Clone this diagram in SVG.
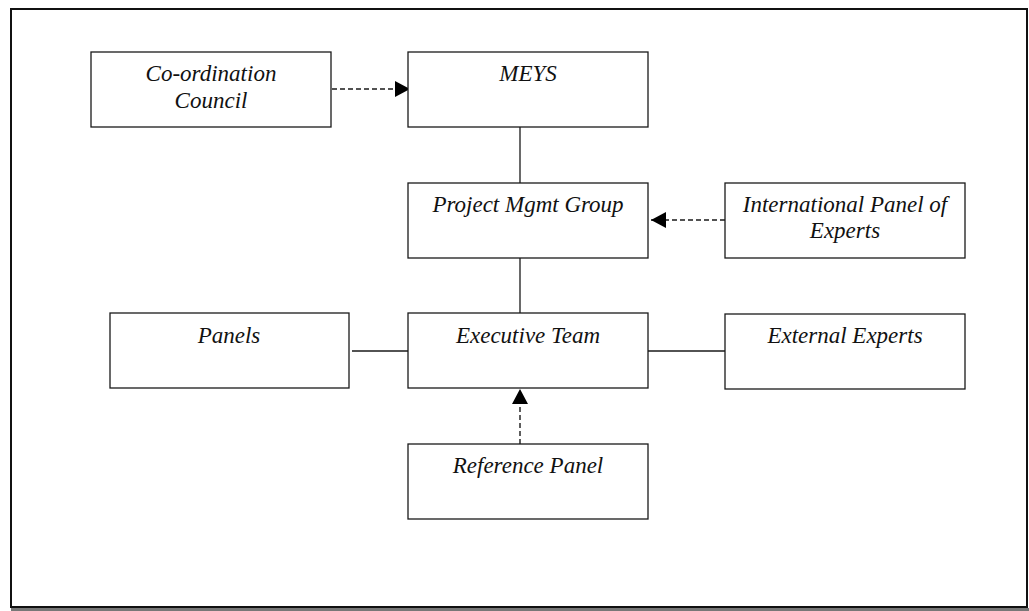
<svg xmlns="http://www.w3.org/2000/svg" width="1029" height="611" viewBox="0 0 1029 611">
  <style>
    .box { fill: #fff; stroke: #1a1a1a; stroke-width: 1.3; }
    .lbl { font-family: "Liberation Serif", "Times New Roman", serif; font-style: italic; font-size: 23px; fill: #111; text-anchor: middle; }
    .solid { stroke: #1a1a1a; stroke-width: 1.3; fill: none; }
    .dash { stroke: #1a1a1a; stroke-width: 1.4; fill: none; stroke-dasharray: 5 3; }
  </style>
  <defs>
    <marker id="arrow" markerWidth="15" markerHeight="16" refX="15" refY="8" orient="auto" markerUnits="userSpaceOnUse">
      <path d="M0,0 L15,8 L0,16 Z" fill="#000"/>
    </marker>
  </defs>

  <rect width="1029" height="611" fill="#fff"/>

  <!-- outer frame with a soft lower edge -->
  <g id="frame">
    <line x1="11" y1="609.5" x2="1029" y2="609.5" stroke="#777" stroke-width="3"/>
    <rect x="11" y="9" width="1016" height="598" fill="none" stroke="#111" stroke-width="2"/>
  </g>

  <g id="connectors">
    <line class="dash" x1="332" y1="89" x2="410" y2="89" marker-end="url(#arrow)"/>
    <line class="solid" x1="520" y1="127" x2="520" y2="183"/>
    <line class="dash" x1="725" y1="220" x2="651" y2="220" marker-end="url(#arrow)"/>
    <line class="solid" x1="520" y1="258" x2="520" y2="313"/>
    <line class="solid" x1="352" y1="351" x2="408" y2="351"/>
    <line class="solid" x1="648" y1="351" x2="725" y2="351"/>
    <line class="dash" x1="520" y1="444" x2="520" y2="389" marker-end="url(#arrow)"/>
  </g>

  <g id="coordination-council">
    <rect class="box" x="91" y="52" width="240" height="75"/>
    <text class="lbl" x="211" y="81">Co-ordination</text>
    <text class="lbl" x="211" y="108">Council</text>
  </g>

  <g id="meys">
    <rect class="box" x="408" y="52" width="240" height="75"/>
    <text class="lbl" x="528" y="81">MEYS</text>
  </g>

  <g id="project-mgmt-group">
    <rect class="box" x="408" y="183" width="240" height="75"/>
    <text class="lbl" x="528" y="212">Project Mgmt Group</text>
  </g>

  <g id="international-panel">
    <rect class="box" x="725" y="183" width="240" height="75"/>
    <text class="lbl" x="845" y="212">International Panel of</text>
    <text class="lbl" x="845" y="238">Experts</text>
  </g>

  <g id="panels">
    <rect class="box" x="110" y="313" width="239" height="75"/>
    <text class="lbl" x="229" y="343">Panels</text>
  </g>

  <g id="executive-team">
    <rect class="box" x="408" y="313" width="240" height="75"/>
    <text class="lbl" x="528" y="343">Executive Team</text>
  </g>

  <g id="external-experts">
    <rect class="box" x="725" y="314" width="240" height="75"/>
    <text class="lbl" x="845" y="343">External Experts</text>
  </g>

  <g id="reference-panel">
    <rect class="box" x="408" y="444" width="240" height="75"/>
    <text class="lbl" x="528" y="473">Reference Panel</text>
  </g>
</svg>
